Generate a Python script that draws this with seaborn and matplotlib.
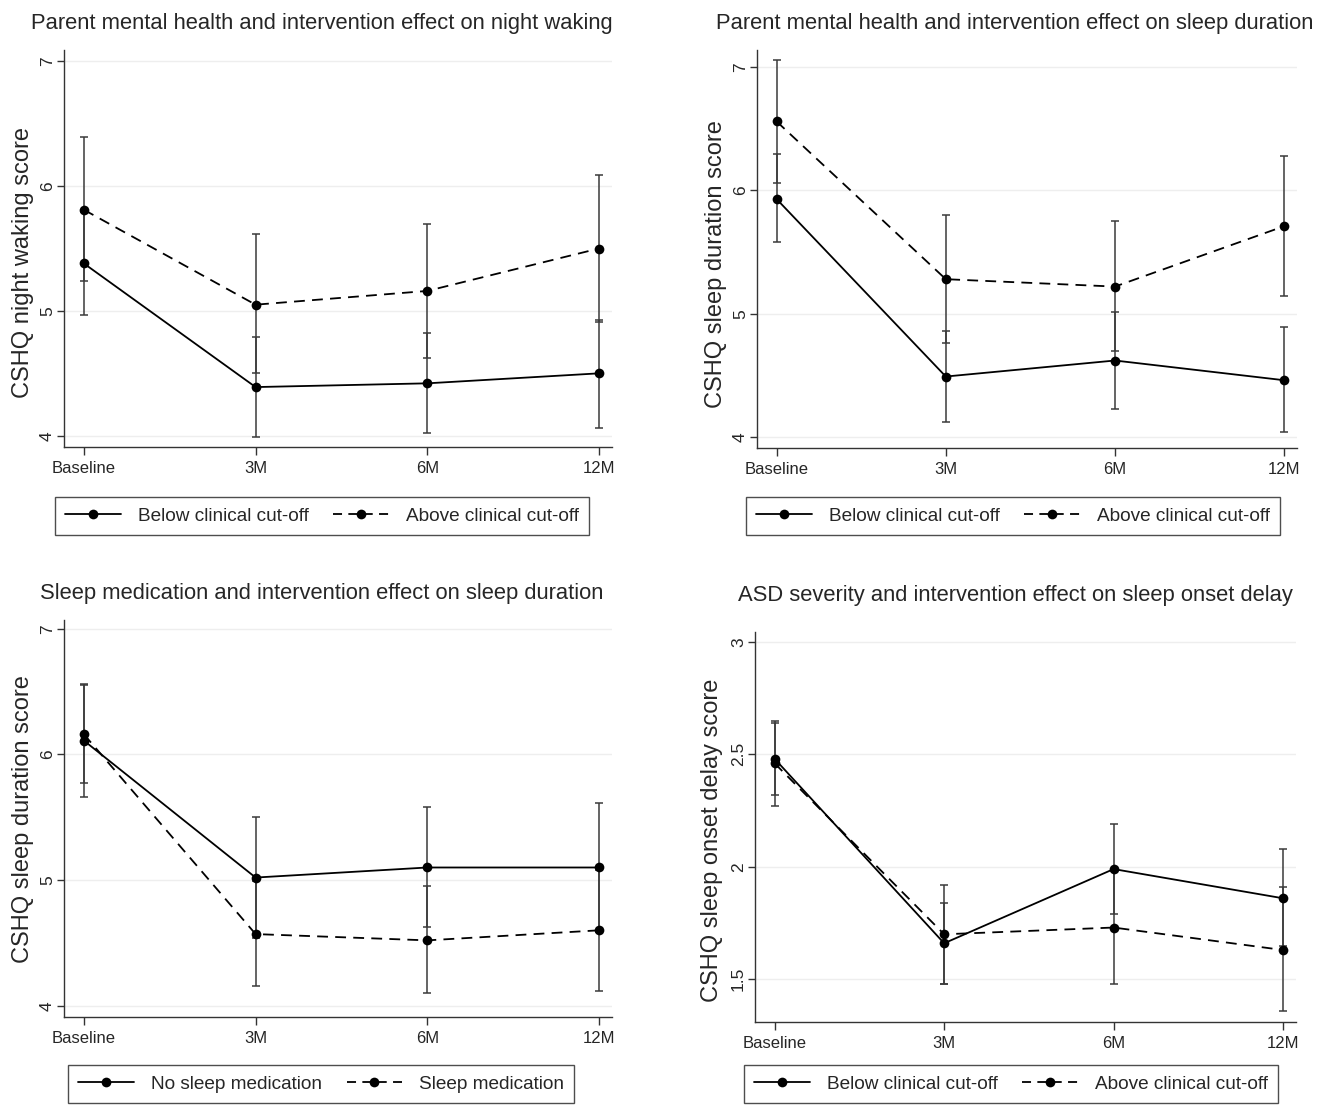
import numpy as np
import pandas as pd
import matplotlib
matplotlib.use("Agg")
import matplotlib.pyplot as plt
from matplotlib.lines import Line2D
import seaborn as sns

# ---------------- data ----------------
time_labels = ["Baseline", "3M", "6M", "12M"]

# Panel 1: night waking by parent mental health
p1_title = "Parent mental health and intervention effect on night waking"
p1_ylabel = "CSHQ night waking score"
p1_groups = ["Below clinical cut-off", "Above clinical cut-off"]
p1_below_mean = [5.38, 4.39, 4.42, 4.50]
p1_below_lo = [4.97, 3.99, 4.02, 4.06]
p1_below_hi = [5.79, 4.79, 4.82, 4.93]
p1_above_mean = [5.81, 5.05, 5.16, 5.50]
p1_above_lo = [5.24, 4.50, 4.62, 4.91]
p1_above_hi = [6.39, 5.62, 5.70, 6.09]
p1_yticks = [4, 5, 6, 7]

# Panel 2: sleep duration by parent mental health
p2_title = "Parent mental health and intervention effect on sleep duration"
p2_ylabel = "CSHQ sleep duration score"
p2_groups = ["Below clinical cut-off", "Above clinical cut-off"]
p2_below_mean = [5.93, 4.49, 4.62, 4.46]
p2_below_lo = [5.58, 4.12, 4.23, 4.04]
p2_below_hi = [6.30, 4.86, 5.01, 4.89]
p2_above_mean = [6.56, 5.28, 5.22, 5.71]
p2_above_lo = [6.06, 4.76, 4.70, 5.14]
p2_above_hi = [7.06, 5.80, 5.75, 6.28]
p2_yticks = [4, 5, 6, 7]

# Panel 3: sleep duration by sleep medication
p3_title = "Sleep medication and intervention effect on sleep duration"
p3_ylabel = "CSHQ sleep duration score"
p3_groups = ["No sleep medication", "Sleep medication"]
p3_nomed_mean = [6.11, 5.02, 5.10, 5.10]
p3_nomed_lo = [5.66, 4.54, 4.63, 4.59]
p3_nomed_hi = [6.56, 5.50, 5.58, 5.61]
p3_med_mean = [6.16, 4.57, 4.52, 4.60]
p3_med_lo = [5.77, 4.16, 4.10, 4.12]
p3_med_hi = [6.55, 4.99, 4.95, 5.08]
p3_yticks = [4, 5, 6, 7]

# Panel 4: sleep onset delay by ASD severity
p4_title = "ASD severity and intervention effect on sleep onset delay"
p4_ylabel = "CSHQ sleep onset delay score"
p4_groups = ["Below clinical cut-off", "Above clinical cut-off"]
p4_below_mean = [2.48, 1.66, 1.99, 1.86]
p4_below_lo = [2.32, 1.48, 1.79, 1.65]
p4_below_hi = [2.64, 1.84, 2.19, 2.08]
p4_above_mean = [2.46, 1.70, 1.73, 1.63]
p4_above_lo = [2.27, 1.48, 1.48, 1.36]
p4_above_hi = [2.65, 1.92, 1.98, 1.91]
p4_yticks = [1.5, 2, 2.5, 3]
p4_yticklabels = ["1.5", "2", "2.5", "3"]

# ---------------- style ----------------
sns.set_style("white")
plt.rcParams["font.family"] = ["Liberation Sans", "DejaVu Sans"]

W, H = 1330, 1105
fig = plt.figure(figsize=(W / 100, H / 100), dpi=100)


def fx(px):
    return px / W


def fy(py):
    return 1 - py / H


panels = [
    dict(title=p1_title, ylabel=p1_ylabel, groups=p1_groups,
         s1=(p1_below_mean, p1_below_lo, p1_below_hi),
         s2=(p1_above_mean, p1_above_lo, p1_above_hi),
         yticks=p1_yticks, yticklabels=None, ylim=(3.91, 7.09),
         box=(64, 50, 612, 447), title_xy=(322, 23), ylab_xy=(23, 263),
         leg=(55, 497)),
    dict(title=p2_title, ylabel=p2_ylabel, groups=p2_groups,
         s1=(p2_below_mean, p2_below_lo, p2_below_hi),
         s2=(p2_above_mean, p2_above_lo, p2_above_hi),
         yticks=p2_yticks, yticklabels=None, ylim=(3.91, 7.14),
         box=(757, 50, 1297, 448), title_xy=(1015, 23), ylab_xy=(716, 264),
         leg=(746, 497)),
    dict(title=p3_title, ylabel=p3_ylabel, groups=p3_groups,
         s1=(p3_nomed_mean, p3_nomed_lo, p3_nomed_hi),
         s2=(p3_med_mean, p3_med_lo, p3_med_hi),
         yticks=p3_yticks, yticklabels=None, ylim=(3.91, 7.07),
         box=(64, 620, 612, 1017), title_xy=(322, 593), ylab_xy=(23, 819),
         leg=(68, 1065)),
    dict(title=p4_title, ylabel=p4_ylabel, groups=p4_groups,
         s1=(p4_below_mean, p4_below_lo, p4_below_hi),
         s2=(p4_above_mean, p4_above_lo, p4_above_hi),
         yticks=p4_yticks, yticklabels=p4_yticklabels, ylim=(1.31, 3.044),
         box=(755, 632, 1296, 1022), title_xy=(1015, 596),
         ylab_xy=(712, 840), leg=(744, 1065)),
]

for p in panels:
    l, t, r, b = p["box"]
    ax = fig.add_axes([fx(l), fy(b), fx(r) - fx(l), (b - t) / H])

    rows = []
    for g, (m, lo, hi) in zip(p["groups"], [p["s1"], p["s2"]]):
        for i, tl in enumerate(time_labels):
            rows.append(dict(time=i, score=m[i], lo=lo[i], hi=hi[i], group=g))
    df = pd.DataFrame(rows)

    # grid lines
    for yt in p["yticks"]:
        ax.axhline(yt, color="#eeeeee", lw=1.0, zorder=0)

    # confidence intervals
    for g in p["groups"]:
        d = df[df.group == g]
        ax.errorbar(d.time, d.score,
                    yerr=[d.score - d.lo, d.hi - d.score],
                    fmt="none", ecolor="#3a3a3a", elinewidth=1.1,
                    capsize=3.2, capthick=1.1, zorder=2)

    sns.lineplot(data=df, x="time", y="score", style="group",
                 style_order=p["groups"],
                 markers={p["groups"][0]: "o", p["groups"][1]: "o"},
                 dashes={p["groups"][0]: "", p["groups"][1]: (6, 4)},
                 color="black", linewidth=1.3, markersize=7,
                 markeredgewidth=0, errorbar=None, legend=False, ax=ax,
                 zorder=3)

    ax.set_xlim(-0.116, 3.076)
    ax.set_ylim(*p["ylim"])
    ax.set_xticks(range(len(time_labels)))
    ax.set_xticklabels(time_labels, fontsize=12)
    ax.set_yticks(p["yticks"])
    if p["yticklabels"] is not None:
        ax.set_yticklabels(p["yticklabels"])
    for lab in ax.get_yticklabels():
        lab.set_rotation(90)
        lab.set_va("center")
        lab.set_fontsize(12.5)
    ax.tick_params(axis="x", direction="out", length=6, width=1.0,
                   color="#333333", bottom=True, pad=4)
    ax.tick_params(axis="y", direction="out", length=5, width=1.0,
                   color="#333333", left=True, pad=1.5)
    ax.set_xlabel("")
    ax.set_ylabel("")
    for s in ["top", "right"]:
        ax.spines[s].set_visible(False)
    for s in ["left", "bottom"]:
        ax.spines[s].set_color("#333333")
        ax.spines[s].set_linewidth(1.0)
    ax.set_facecolor("white")

    fig.text(fx(p["title_xy"][0]), fy(p["title_xy"][1]), p["title"],
             ha="center", va="center", fontsize=15.8)
    fig.text(fx(p["ylab_xy"][0]), fy(p["ylab_xy"][1]), p["ylabel"],
             rotation=90, ha="center", va="center", fontsize=17)

    handles = [
        Line2D([], [], color="black", lw=1.3, ls="-", marker="o",
               markersize=7, markeredgewidth=0),
        Line2D([], [], color="black", lw=1.3, ls=(0, (5, 3.5)), marker="o",
               markersize=7, markeredgewidth=0),
    ]
    ll, lt = p["leg"]
    leg = fig.legend(handles, p["groups"], loc="upper left",
                     bbox_to_anchor=(fx(ll), fy(lt)),
                     ncol=2, frameon=True, fancybox=False,
                     edgecolor="#222222", handlelength=2.9,
                     handletextpad=0.9, columnspacing=1.3,
                     borderpad=0.55, borderaxespad=0,
                     prop=dict(size=13.7))
    leg.get_frame().set_linewidth(1.0)

fig.savefig("out.png", dpi=100, facecolor="white")
